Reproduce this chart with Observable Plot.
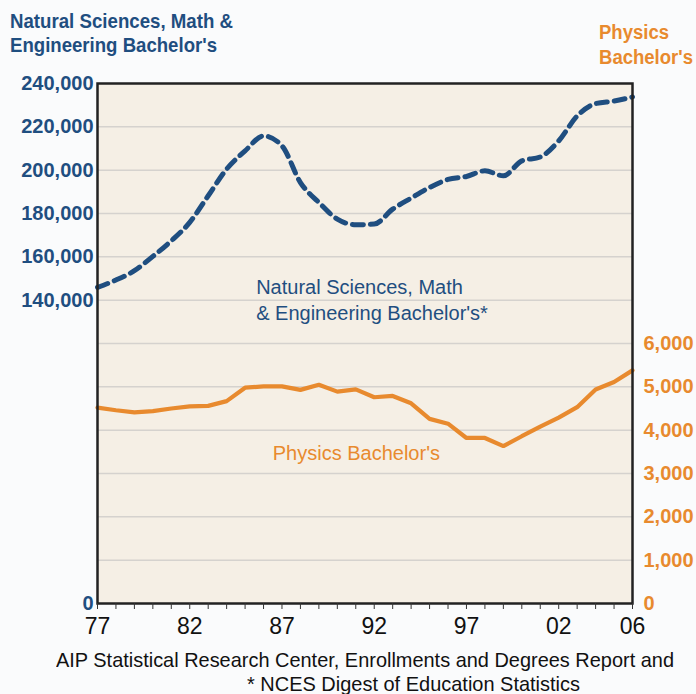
<!DOCTYPE html>
<html>
<head>
<meta charset="utf-8">
<script src="https://cdn.jsdelivr.net/npm/d3@7"></script>
<script src="https://cdn.jsdelivr.net/npm/@observablehq/plot@0.6"></script>
<style>
  html, body { margin: 0; padding: 0; background: #fafbfc; }
  #wrap { position: relative; width: 696px; height: 694px; overflow: hidden;
          font-family: "Liberation Sans", Arial, Helvetica, sans-serif; }
  #chart { position: absolute; left: 0; top: 0; }
  .t { position: absolute; white-space: nowrap; line-height: 1; transform-origin: 0 0; }
  .b { font-weight: bold; }
</style>
</head>
<body>
<div id="wrap">
  <div id="chart"></div>
  <div class="t b fit" data-w="223" style="left:10px;top:11.3px;font-size:20.5px;color:#1f4e80">Natural Sciences, Math &amp;</div>
  <div class="t b fit" data-w="207" style="left:10px;top:34.6px;font-size:20.5px;color:#1f4e80">Engineering Bachelor's</div>
  <div class="t b fit" data-w="70" style="left:599px;top:22.1px;font-size:20px;color:#e88a2e">Physics</div>
  <div class="t b fit" data-w="94" style="left:599px;top:46.6px;font-size:20px;color:#e88a2e">Bachelor's</div>
  <div class="t fit" data-w="618" style="left:56px;top:649.2px;font-size:21px;color:#111">AIP Statistical Research Center, Enrollments and Degrees Report and</div>
  <div class="t fit" data-w="333" style="left:247px;top:673.2px;font-size:21px;color:#111">* NCES Digest of Education Statistics</div>
</div>
<script>
// ---- data ----
const years = [1977, 1978, 1979, 1980, 1981, 1982, 1983, 1984, 1985, 1986,
               1987, 1988, 1989, 1990, 1991, 1992, 1993, 1994, 1995, 1996,
               1997, 1998, 1999, 2000, 2001, 2002, 2003, 2004, 2005, 2006];

// Natural Sciences, Math & Engineering Bachelor's (left axis)
const nsmeValues = [145900, 149300, 153600, 160200, 167400, 175900, 188200, 200500, 208900, 215800,
                    211200, 194300, 185100, 177400, 174800, 175100, 182000, 187100, 192000, 195700,
                    197100, 199700, 197400, 204300, 206100, 213500, 225000, 230700, 231900, 233800];

// Physics Bachelor's (right axis)
const physicsValues = [4520, 4460, 4410, 4440, 4500, 4550, 4560, 4670, 4980, 5010,
                       5010, 4930, 5050, 4890, 4940, 4760, 4790, 4620, 4260, 4150,
                       3820, 3820, 3630, 3860, 4080, 4290, 4530, 4940, 5110, 5380];

const leftTicks = [0, 140000, 160000, 180000, 200000, 220000, 240000];
const gridValues = [20000, 40000, 60000, 80000, 100000, 120000, 140000, 160000, 180000, 200000, 220000];
const rightTicks = [0, 1000, 2000, 3000, 4000, 5000, 6000];
const xLabelYears = [1977, 1982, 1987, 1992, 1997, 2002, 2006];
const xLabelTexts = ["77", "82", "87", "92", "97", "02", "06"];

// in-plot series labels (anchor year, value in each series' own units)
const seriesLabelTexts = ["Natural Sciences, Math\n& Engineering Bachelor's*", "Physics Bachelor's"];
const seriesLabelYears = [1985.6, 1986.5];
const seriesLabelValues = [140800, 3500];
const seriesLabelOnRight = [false, true];

// ---- chart ----
const RATIO = 20; // left-axis units per right-axis unit
const blue = "#1f4e80";
const orange = "#e88a2e";

const rows = years.map((yr, i) => ({year: yr, nsme: nsmeValues[i], physics: physicsValues[i] * RATIO}));
const labelRows = seriesLabelTexts.map((t, i) => ({
  text: t, year: seriesLabelYears[i],
  value: seriesLabelOnRight[i] ? seriesLabelValues[i] * RATIO : seriesLabelValues[i],
  color: seriesLabelOnRight[i] ? orange : blue
}));
const xLabelMap = new Map(xLabelYears.map((y, i) => [y, xLabelTexts[i]]));
const fmt = d3.format(",");

const chart = Plot.plot({
  width: 696,
  height: 694,
  marginTop: 83,
  marginBottom: 91,
  marginLeft: 97,
  marginRight: 64,
  style: {background: "transparent", fontFamily: '"Liberation Sans", Arial, Helvetica, sans-serif', overflow: "visible"},
  x: {domain: [1977, 2006], label: null},
  y: {domain: [0, 240000], label: null},
  marks: [
    Plot.frame({fill: "#f5efe5", stroke: null}),
    Plot.gridY(gridValues, {stroke: "#d5d2ce", strokeOpacity: 1, strokeWidth: 1.5}),
    Plot.line(rows, {x: "year", y: "physics", stroke: orange, strokeWidth: 4.2, strokeLinejoin: "miter"}),
    Plot.line(rows, {x: "year", y: "nsme", stroke: blue, strokeWidth: 5, strokeDasharray: "11,7", curve: "monotone-x"}),
    Plot.text(labelRows, {x: "year", y: "value", text: "text", fill: "color", textAnchor: "start",
                          lineAnchor: "middle", lineHeight: 1.3, fontSize: 20}),
    Plot.frame({stroke: "#222", strokeWidth: 2.5}),
    Plot.axisY(leftTicks, {anchor: "left", tickSize: 0, tickPadding: 4, tickFormat: fmt,
                           fontSize: 20, fontWeight: "bold", color: blue, label: null}),
    Plot.axisY(rightTicks.map(v => v * RATIO), {anchor: "right", tickSize: 0, tickPadding: 11,
                           tickFormat: d => fmt(d / RATIO), fontSize: 20, fontWeight: "bold", color: orange, label: null}),
    Plot.axisX(years, {anchor: "bottom", tickSize: 6, tickPadding: 8, stroke: "#333", fill: "#111",
                       tickFormat: d => xLabelMap.get(d) ?? "", fontSize: 23, label: null})
  ]
});
document.getElementById("chart").appendChild(chart);

// fit overlay text lines to measured widths
document.querySelectorAll(".fit").forEach(el => {
  const w = el.getBoundingClientRect().width;
  const target = +el.dataset.w;
  if (w > 0) el.style.transform = `scaleX(${target / w})`;
});
</script>
</body>
</html>
